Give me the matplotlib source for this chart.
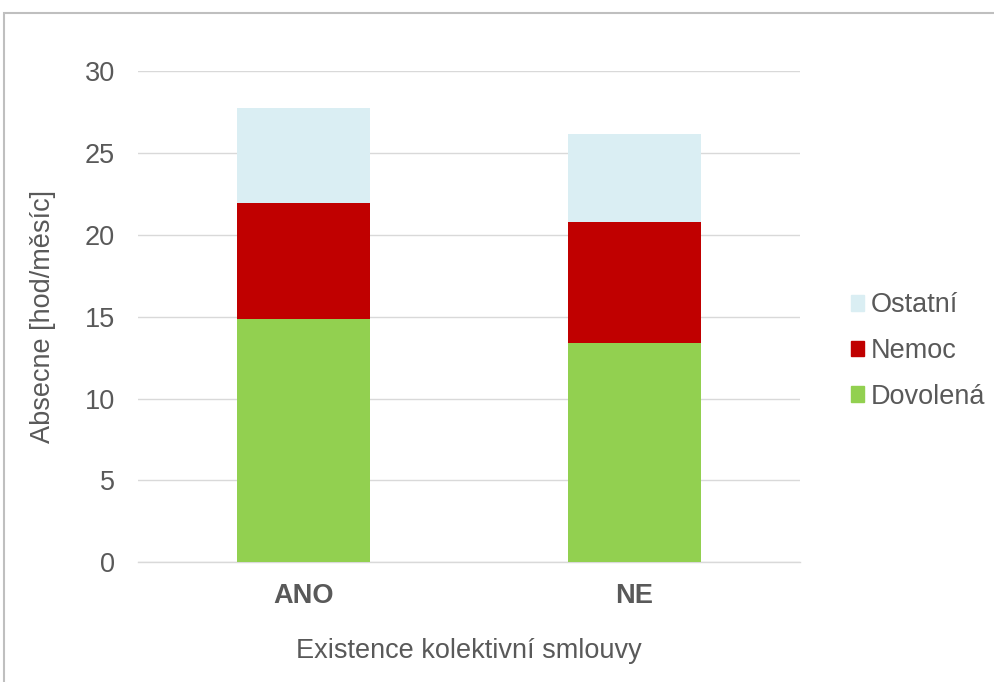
import matplotlib.pyplot as plt
from matplotlib.patches import Rectangle, Patch

plt.rcParams['font.family'] = ['Liberation Sans', 'DejaVu Sans']

categories = ["ANO", "NE"]
dovolena = [14.85, 13.39]
nemoc = [7.08, 7.38]
ostatni = [5.83, 5.36]

TEXT = "#595959"
GRID = "#D9D9D9"
FS = 19.5

fig = plt.figure(figsize=(9.95, 6.82), dpi=100)
ax = fig.add_axes([138 / 995, 1 - 562.3 / 682, 662 / 995, 491.3 / 682])

x = range(len(categories))
w = 0.4
ax.bar(x, dovolena, w, color="#92D050", label="Dovolená", zorder=3)
bottom2 = [a for a in dovolena]
ax.bar(x, nemoc, w, bottom=bottom2, color="#C00000", label="Nemoc", zorder=3)
bottom3 = [a + b for a, b in zip(dovolena, nemoc)]
ax.bar(x, ostatni, w, bottom=bottom3, color="#DAEEF3", label="Ostatní", zorder=3)

ax.set_xlim(-0.5, 1.5)
ax.set_ylim(0, 30)
ax.set_yticks(range(0, 31, 5))
ax.yaxis.grid(True, color=GRID, linewidth=1)
ax.set_axisbelow(True)
for side in ["top", "right", "left"]:
    ax.spines[side].set_visible(False)
ax.spines["bottom"].set_color(GRID)
ax.spines["bottom"].set_linewidth(1)
ax.tick_params(axis="both", length=0, colors=TEXT, labelsize=FS)
ax.tick_params(axis="y", pad=16.5)
ax.tick_params(axis="x", pad=15)
ax.set_xticks(list(x))
ax.set_xticklabels(categories, fontweight="bold")

ax.set_ylabel("Absecne [hod/měsíc]", color=TEXT, fontsize=FS, labelpad=21)
ax.set_xlabel("Existence kolektivní smlouvy", color=TEXT, fontsize=FS, labelpad=21)

handles = [Patch(color="#DAEEF3"), Patch(color="#C00000"), Patch(color="#92D050")]
leg = fig.legend(handles, ["Ostatní", "Nemoc", "Dovolená"], loc="center left",
                 bbox_to_anchor=(840 / 995, 1 - 351 / 682), frameon=False,
                 borderaxespad=0, fontsize=FS, handlelength=0.5, handleheight=0.5,
                 handletextpad=0.22, labelspacing=0.72)
for t in leg.get_texts():
    t.set_color(TEXT)

# chart border
fig.patches.append(Rectangle((4 / 995, -0.1), 1.1, (1 - 13 / 682) + 0.1,
                             transform=fig.transFigure, fill=False,
                             edgecolor="#BFBFBF", linewidth=1.5))

fig.savefig("out.png", dpi=100)
